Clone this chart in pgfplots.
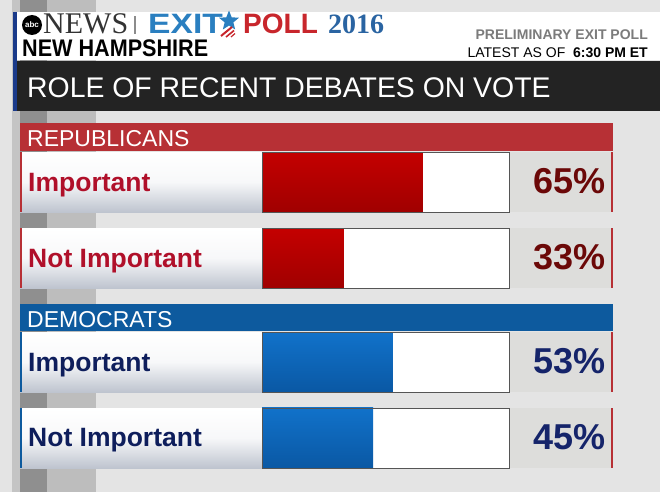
\documentclass[border=0pt]{standalone}
\usepackage{fontspec}
\setmainfont{Liberation Sans}
\newfontfamily\serifx{Liberation Serif}
\usepackage{pgfplots}
\pgfplotsset{compat=1.18}
\usetikzlibrary{shapes.geometric}

\definecolor{bgcol}{HTML}{E4E4E4}
\definecolor{band1}{HTML}{C4C4C4}
\definecolor{band2}{HTML}{8F8F8F}
\definecolor{band3}{HTML}{BDBDBD}
\definecolor{titlebg}{HTML}{232323}
\definecolor{stripblue}{HTML}{1A3A8A}
\definecolor{repred}{HTML}{B73035}
\definecolor{demblue}{HTML}{0D5A9E}
\definecolor{lblred}{HTML}{B0102A}
\definecolor{lblblue}{HTML}{0E1E5C}
\definecolor{pctred}{HTML}{6B0808}
\definecolor{pctblue}{HTML}{15246A}
\definecolor{redtop}{HTML}{C40000}
\definecolor{redbot}{HTML}{A00000}
\definecolor{bluetop}{HTML}{1172CA}
\definecolor{bluebot}{HTML}{0A58A4}
\definecolor{lblbot}{HTML}{BEC4CF}
\definecolor{pctbg}{HTML}{DDDDDB}
\definecolor{frame}{HTML}{555555}
\definecolor{exitblue}{HTML}{2A7FC0}
\definecolor{exitred}{HTML}{C8262C}
\definecolor{yearblue}{HTML}{2A64A2}
\definecolor{prelgray}{HTML}{7B7B7B}

% one answer row: #1 top edge, #2 colour of the left edge
\newcommand{\rowbox}[2]{%
  \shade[top color=white, bottom color=lblbot, middle color=white!88!lblbot] (20,#1) rectangle (262,#1+60);
  \fill[white] (262,#1) rectangle (509,#1+60);
  \fill[pctbg] (509,#1) rectangle (612,#1+60);
  \fill[#2] (20,#1) rectangle (22,#1+60);
  \fill[repred] (611,#1) rectangle (613,#1+60);}

\pgfplotsset{
  redbar/.style={xbar, bar width=60, bar shift=0pt, draw=none, top color=redtop, bottom color=redbot},
  bluebar/.style={xbar, bar width=60, bar shift=0pt, draw=none, top color=bluetop, bottom color=bluebot}}

\begin{document}
\begin{tikzpicture}
\begin{scope}[x=1pt,y=-1pt]
% background
\fill[bgcol] (0,0) rectangle (660,492);
\fill[band1] (12,0) rectangle (20,492);
\fill[band2] (20,0) rectangle (47,492);
\fill[band3] (47,0) rectangle (96,492);

% header
\fill[white] (13,12) rectangle (660,60);
\fill[titlebg] (13,61) rectangle (660,111);
\fill[stripblue] (13,12) rectangle (17,111);
\fill[black] (32,25) circle (10);
\node[white, font=\bfseries\fontsize{8}{8}\selectfont, inner sep=0pt] at (32,25) {abc};
\node[anchor=base west, inner sep=0pt, text=black!80, font=\serifx\fontsize{30}{30}\selectfont] at (43,34) {NEWS};
\fill[black!45] (134,16) rectangle (136,34);
\node[anchor=base west, inner sep=0pt, text=exitblue, font=\bfseries\fontsize{28}{28}\selectfont] at (148,34) {\scalebox{1.2}[1]{EXIT}};
\node[star, star points=5, star point ratio=2.3, fill=exitblue, minimum size=21pt, inner sep=0pt] at (229,21) {};
\draw[exitred, line width=2pt] (221,36) -- (232,27);
\draw[exitred, line width=1.6pt] (226,37) -- (234,30.5);
\draw[exitred, line width=1.2pt] (231,37) -- (235,33.5);
\node[anchor=base west, inner sep=0pt, text=exitred, font=\bfseries\fontsize{28}{28}\selectfont] at (243,34) {POLL};
\node[anchor=base west, inner sep=0pt, text=yearblue, font=\serifx\bfseries\fontsize{28}{28}\selectfont] at (328,34) {2016};
\node[anchor=base west, inner sep=0pt, font=\bfseries\fontsize{24}{24}\selectfont] at (22,57) {\scalebox{0.9}[1]{NEW HAMPSHIRE}};
\node[anchor=base east, inner sep=0pt, text=prelgray, font=\bfseries\fontsize{14}{14}\selectfont] at (648,40) {PRELIMINARY EXIT POLL};
\node[anchor=base east, inner sep=0pt, font=\fontsize{14}{14}\selectfont] at (648,58) {LATEST AS OF \ \textbf{6:30 PM ET}};
\node[anchor=base west, inner sep=0pt, text=white, font=\fontsize{28.4}{28.4}\selectfont] at (27,97) {ROLE OF RECENT DEBATES ON VOTE};

% group headers
\fill[repred] (20,123) rectangle (613,151);
\node[anchor=base west, inner sep=0pt, text=white, font=\fontsize{23}{23}\selectfont] at (27,146) {REPUBLICANS};
\fill[demblue] (20,304) rectangle (613,331);
\node[anchor=base west, inner sep=0pt, text=white, font=\fontsize{23}{23}\selectfont] at (27,327) {DEMOCRATS};

% rows
\rowbox{152}{repred}
\rowbox{228}{repred}
\rowbox{332}{demblue}
\rowbox{408}{demblue}
\end{scope}

\begin{axis}[
    at={(262pt,-467pt)}, anchor=south west,
    scale only axis, width=247pt, height=315pt,
    xmin=0, xmax=100, ymin=0, ymax=315,
    hide axis, clip=false]
  % Republicans: Important, Not Important
  \addplot[redbar] coordinates {(65,285)};
  \addplot[redbar] coordinates {(33,209)};
  % Democrats: Important, Not Important
  \addplot[bluebar] coordinates {(53,105)};
  \addplot[bluebar] coordinates {(45,29.5)};
\end{axis}

\begin{scope}[x=1pt,y=-1pt, every node/.style={inner sep=0pt}]
\foreach \t in {152,228,332,408}
  \draw[frame, line width=0.8pt] (262,\t) rectangle (509,\t+60);
\node[anchor=base west, text=lblred, font=\bfseries\fontsize{26.5}{26}\selectfont] at (28,191) {Important};
\node[anchor=base west, text=lblred, font=\bfseries\fontsize{26.5}{26}\selectfont] at (28,267) {Not Important};
\node[anchor=base west, text=lblblue, font=\bfseries\fontsize{26.5}{26}\selectfont] at (28,371) {Important};
\node[anchor=base west, text=lblblue, font=\bfseries\fontsize{26.5}{26}\selectfont] at (28,446) {Not Important};
\node[anchor=base east, text=pctred, font=\bfseries\fontsize{36}{36}\selectfont] at (606,193) {65\%};
\node[anchor=base east, text=pctred, font=\bfseries\fontsize{36}{36}\selectfont] at (606,269) {33\%};
\node[anchor=base east, text=pctblue, font=\bfseries\fontsize{36}{36}\selectfont] at (606,373) {53\%};
\node[anchor=base east, text=pctblue, font=\bfseries\fontsize{36}{36}\selectfont] at (606,449) {45\%};
\end{scope}
\end{tikzpicture}
\end{document}
